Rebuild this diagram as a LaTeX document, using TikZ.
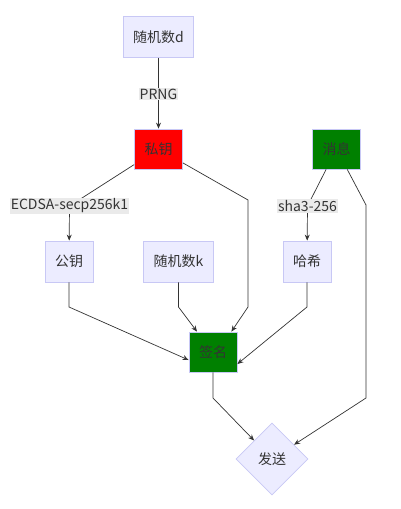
\documentclass[tikz,border=0pt]{standalone}
\usepackage{fontspec}
\setmainfont{Noto Sans CJK SC}
\usetikzlibrary{shapes.geometric,arrows.meta}
\definecolor{boxfill}{HTML}{ECECFF}
\definecolor{boxline}{HTML}{C8C8F5}
\definecolor{txt}{HTML}{333333}
\definecolor{edge}{HTML}{333333}
\definecolor{lblbg}{HTML}{EAEAEA}
\definecolor{red0}{HTML}{FF0000}
\definecolor{green0}{HTML}{008000}
\tikzset{
  box/.style={draw=boxline, line width=0.8pt, fill=boxfill, text=txt, font=\fontsize{14}{16}\selectfont, minimum height=41pt, minimum width=47pt, inner xsep=10pt},
  dia/.style={diamond, draw=boxline, line width=0.8pt, fill=boxfill, text=txt, font=\fontsize{14}{16}\selectfont, minimum width=72pt, minimum height=72pt, inner sep=0pt, aspect=1},
  lbl/.style={fill=lblbg, text=txt, font=\fontsize{14}{16}\selectfont, inner xsep=1pt, inner ysep=1pt},
  conn/.style={draw=edge, line width=0.7pt, -{Stealth[length=6pt,width=5pt]}},
}
\begin{document}
\begin{tikzpicture}[x=1pt,y=-1pt]
\useasboundingbox (0,0) rectangle (400,509);
\node[box] (d) at (158.5,37) {随机数d};
\node[box, fill=red0, minimum width=47pt, minimum height=40pt] (sk) at (158.5,149) {私钥};
\node[box, fill=green0, minimum width=47pt, minimum height=40pt] (msg) at (336.5,149) {消息};
\node[box] (pk) at (69,261.5) {公钥};
\node[box] (k) at (178.5,261.5) {随机数k};
\node[box] (h) at (307,261.5) {哈希};
\node[box, fill=green0, minimum width=47pt, minimum height=40pt] (sig) at (213,352) {签名};
\node[dia] (send) at (272,459) {发送};

\coordinate (l1) at (69.5,206);
\coordinate (l2) at (307.5,206);
\coordinate (b1) at (248,200);
\coordinate (b2) at (248,307);
\coordinate (b3) at (178.5,307);
\coordinate (b4) at (69,307);
\coordinate (b5) at (307,307);
\coordinate (b6) at (366,205);
\coordinate (b7) at (366,398);
\coordinate (b8) at (213,398);

\draw[conn] (d) -- (sk);
\draw[conn] (sk) -- (l1) -- (pk);
\draw[conn] (sk) -- (b1) -- (b2) -- ([xshift=-6pt]sig.north east);
\draw[conn] (k) -- (b3) -- ([xshift=-16pt]sig.north);
\draw[conn] (pk) -- (b4) -- ([yshift=-8pt]sig.west);
\draw[conn] (h) -- (b5) -- ([yshift=-12pt]sig.east);
\draw[conn] (msg) -- (l2) -- (h);
\draw[conn] (msg) -- (b6) -- (b7) -- (send);
\draw[conn] (sig) -- (b8) -- (send);

\node[lbl] (prng) at (158.5,94) {PRNG};
\node[lbl] (ecdsa) at (l1) {ECDSA-secp256k1};
\node[lbl] (sha) at (l2) {sha3-256};
\end{tikzpicture}
\end{document}
